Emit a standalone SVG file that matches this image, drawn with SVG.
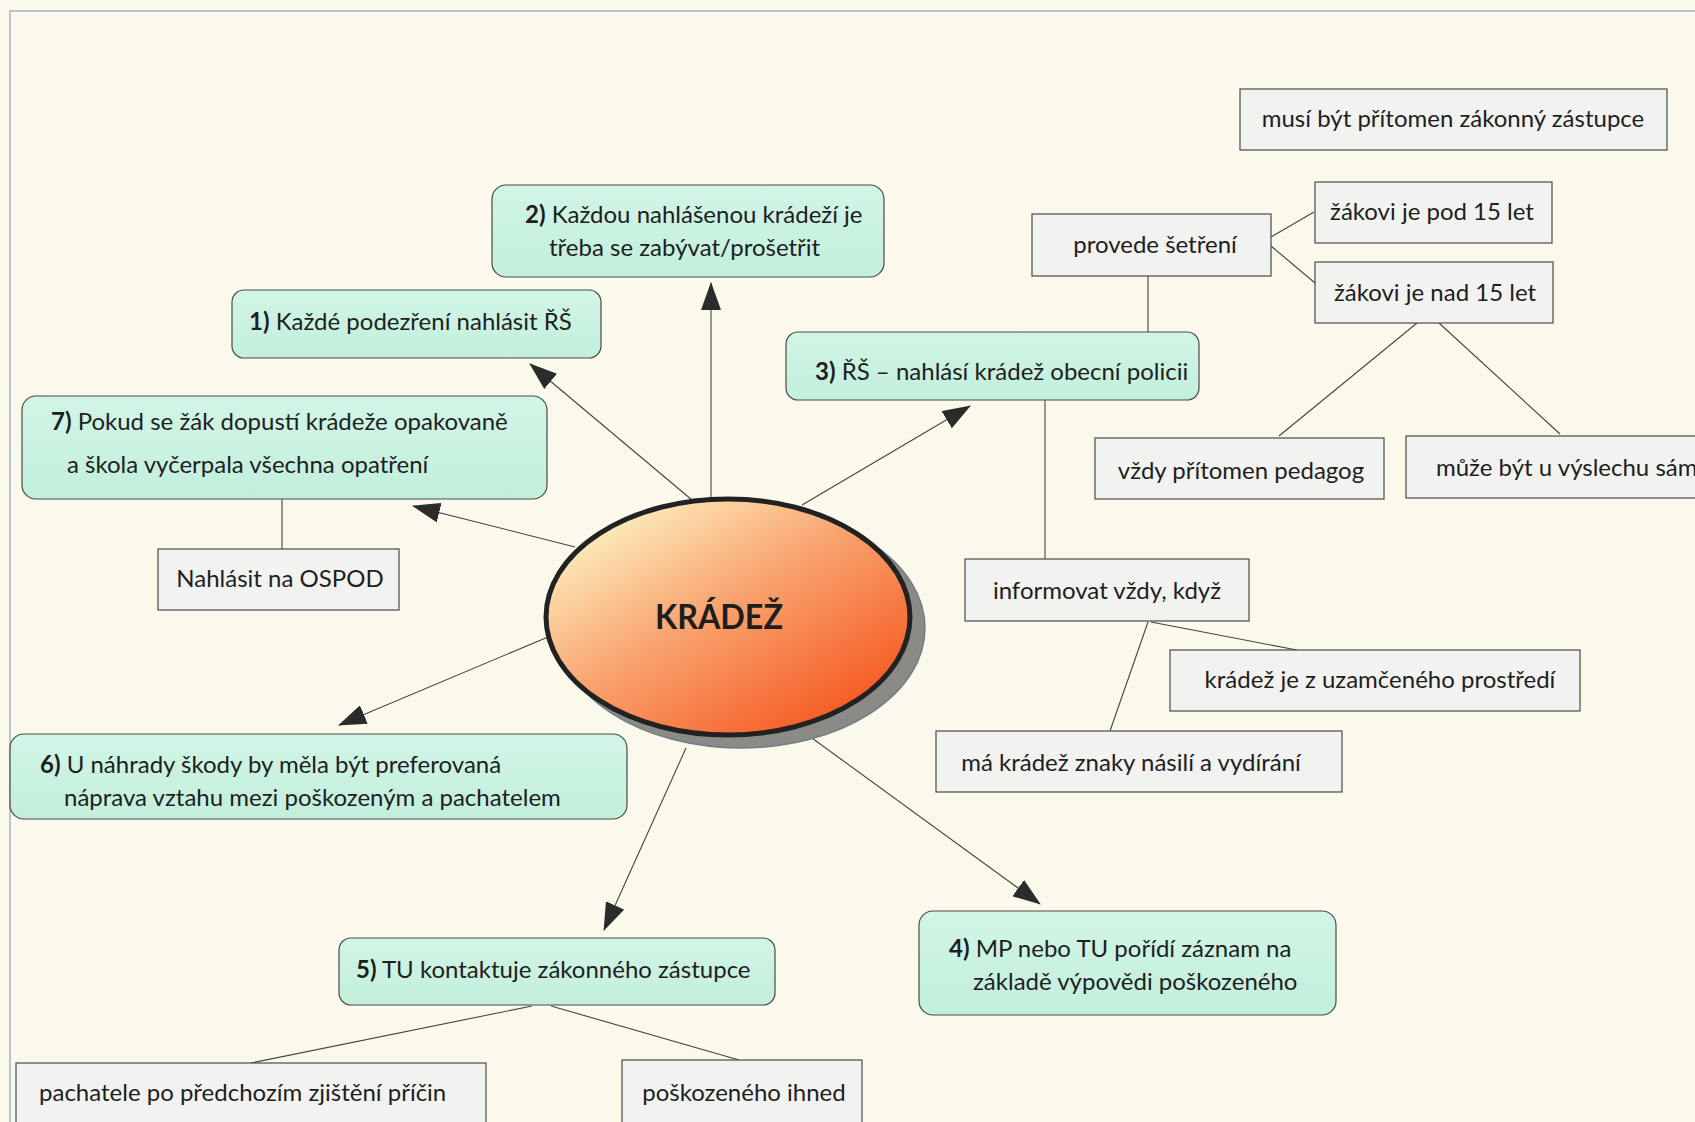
<svg xmlns="http://www.w3.org/2000/svg" width="1695" height="1122" viewBox="0 0 1695 1122">
<defs>
<style>
.t{font-family:Lato,"Liberation Sans",sans-serif;font-size:24px;fill:#1e1e1e}
.c{text-anchor:middle}
.b{font-weight:bold}
.g{fill:url(#gg);stroke:#4a4a4a;stroke-width:1.2}
.r{fill:#f2f2f0;stroke:#4a4a4a;stroke-width:1.2}
.ln{stroke:#444;stroke-width:1.1;fill:none}
.ar{stroke:#444;stroke-width:1.1;fill:none;marker-end:url(#ah)}
</style>
<linearGradient id="gg" x1="0" y1="0" x2="0" y2="1">
<stop offset="0" stop-color="#d2f5e6"/>
<stop offset="1" stop-color="#c2efdc"/>
</linearGradient>
<linearGradient id="eg" x1="0.1" y1="0.1" x2="0.85" y2="0.9">
<stop offset="0" stop-color="#fdf2c2"/>
<stop offset="0.45" stop-color="#f9a672"/>
<stop offset="1" stop-color="#f65a22"/>
</linearGradient>
<marker id="ah" viewBox="0 0 28 20" refX="27" refY="10" markerWidth="28" markerHeight="20" markerUnits="userSpaceOnUse" orient="auto">
<path d="M0,0 L28,10 L0,20 Z" fill="#2b2b2b"/>
</marker>
</defs>
<rect x="0" y="0" width="1695" height="1122" fill="#fbf9ec"/>
<path d="M10,1122 V11 H1695" fill="none" stroke="#b9c4cc" stroke-width="2"/>

<g id="connectors">
<line class="ar" x1="711" y1="500" x2="711" y2="283"/>
<line class="ar" x1="692" y1="500" x2="530" y2="364"/>
<line class="ar" x1="802" y1="505" x2="970" y2="406"/>
<line class="ar" x1="575" y1="547" x2="413" y2="506"/>
<line class="ar" x1="548" y1="637" x2="339" y2="725"/>
<line class="ar" x1="686" y1="748" x2="604" y2="930"/>
<line class="ar" x1="805" y1="733" x2="1040" y2="904"/>
<line class="ln" x1="282" y1="499" x2="282" y2="549"/>
<line class="ln" x1="1148" y1="276" x2="1148" y2="332"/>
<line class="ln" x1="1271" y1="237" x2="1314" y2="212"/>
<line class="ln" x1="1271" y1="246" x2="1315" y2="283"/>
<line class="ln" x1="1417" y1="323" x2="1279" y2="436"/>
<line class="ln" x1="1439" y1="323" x2="1560" y2="434"/>
<line class="ln" x1="1045" y1="400" x2="1045" y2="559"/>
<line class="ln" x1="1151" y1="622" x2="1297" y2="650"/>
<line class="ln" x1="1148" y1="622" x2="1110" y2="731"/>
<line class="ln" x1="532" y1="1006" x2="251" y2="1063"/>
<line class="ln" x1="551" y1="1006" x2="739" y2="1060"/>
</g>

<g id="center">
<ellipse cx="741" cy="628" rx="184" ry="120" fill="#8a8a86" stroke="#6f7f86" stroke-width="1.5"/>
<ellipse cx="728" cy="617" rx="182" ry="118" fill="url(#eg)" stroke="#222" stroke-width="5"/>
<text class="t b c" x="719" y="629" style="font-size:35px" textLength="128" lengthAdjust="spacingAndGlyphs">KRÁDEŽ</text>
</g>

<g id="n2">
<rect class="g" x="492" y="185" width="392" height="92" rx="14"/>
<text class="t" x="525" y="223"><tspan class="b">2)</tspan> Každou nahlášenou krádeží je</text>
<text class="t" x="549" y="256">třeba se zabývat/prošetřit</text>
</g>
<g id="n1">
<rect class="g" x="232" y="290" width="369" height="68" rx="12"/>
<text class="t" x="249" y="330"><tspan class="b">1)</tspan> Každé podezření nahlásit ŘŠ</text>
</g>
<g id="n7">
<rect class="g" x="22" y="396" width="525" height="103" rx="14"/>
<text class="t" x="51" y="430"><tspan class="b">7)</tspan> Pokud se žák dopustí krádeže opakovaně</text>
<text class="t" x="67" y="473">a škola vyčerpala všechna opatření</text>
</g>
<g id="ospod">
<rect class="r" x="158" y="549" width="241" height="61"/>
<text class="t c" x="280" y="587">Nahlásit na OSPOD</text>
</g>
<g id="n3">
<rect class="g" x="786" y="332" width="413" height="68" rx="12"/>
<text class="t" x="815" y="380"><tspan class="b">3)</tspan> ŘŠ – nahlásí krádež obecní policii</text>
</g>
<g id="provede">
<rect class="r" x="1032" y="214" width="239" height="62"/>
<text class="t c" x="1155" y="253">provede šetření</text>
</g>
<g id="musi">
<rect class="r" x="1240" y="89" width="427" height="61"/>
<text class="t c" x="1453" y="127">musí být přítomen zákonný zástupce</text>
</g>
<g id="pod15">
<rect class="r" x="1315" y="182" width="237" height="61"/>
<text class="t c" x="1432" y="220">žákovi je pod 15 let</text>
</g>
<g id="nad15">
<rect class="r" x="1315" y="262" width="238" height="61"/>
<text class="t c" x="1435" y="301">žákovi je nad 15 let</text>
</g>
<g id="pedagog">
<rect class="r" x="1095" y="438" width="289" height="61"/>
<text class="t c" x="1241" y="479">vždy přítomen pedagog</text>
</g>
<g id="sam">
<rect class="r" x="1406" y="436" width="300" height="62"/>
<text class="t" x="1436" y="476">může být u výslechu sám</text>
</g>
<g id="informovat">
<rect class="r" x="965" y="559" width="284" height="62"/>
<text class="t c" x="1107" y="599">informovat vždy, když</text>
</g>
<g id="uzamceny">
<rect class="r" x="1170" y="650" width="410" height="61"/>
<text class="t c" x="1380" y="688">krádež je z uzamčeného prostředí</text>
</g>
<g id="nasili">
<rect class="r" x="936" y="731" width="406" height="61"/>
<text class="t c" x="1131" y="771">má krádež znaky násilí a vydírání</text>
</g>
<g id="n6">
<rect class="g" x="10" y="734" width="617" height="85" rx="14"/>
<text class="t" x="40" y="773"><tspan class="b">6)</tspan> U náhrady škody by měla být preferovaná</text>
<text class="t" x="64" y="806">náprava vztahu mezi poškozeným a pachatelem</text>
</g>
<g id="n5">
<rect class="g" x="339" y="938" width="436" height="67" rx="12"/>
<text class="t" x="356" y="978"><tspan class="b">5)</tspan> TU kontaktuje zákonného zástupce</text>
</g>
<g id="pachatel">
<rect class="r" x="16" y="1063" width="470" height="70"/>
<text class="t" x="39" y="1101">pachatele po předchozím zjištění příčin</text>
</g>
<g id="poskozeny">
<rect class="r" x="622" y="1060" width="240" height="73"/>
<text class="t c" x="744" y="1101">poškozeného ihned</text>
</g>
<g id="n4">
<rect class="g" x="919" y="911" width="417" height="104" rx="14"/>
<text class="t" x="949" y="957"><tspan class="b">4)</tspan> MP nebo TU pořídí záznam na</text>
<text class="t" x="973" y="990">základě výpovědi poškozeného</text>
</g>
</svg>
